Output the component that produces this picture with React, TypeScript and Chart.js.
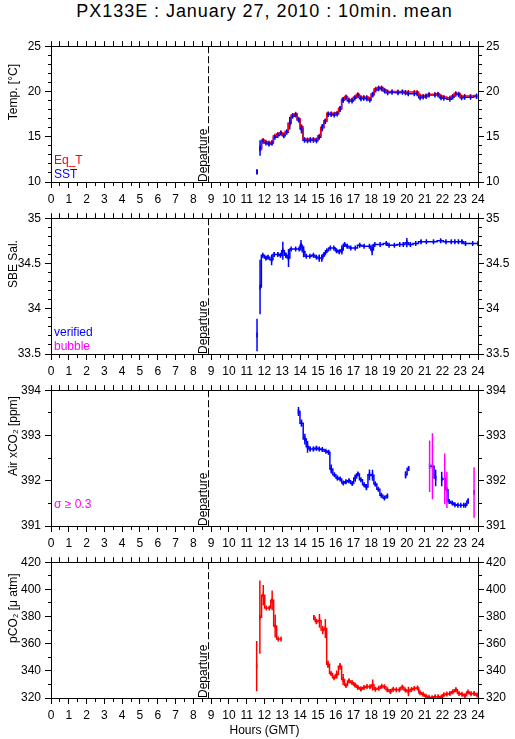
import React, { useEffect, useRef } from 'react';
import { Chart, registerables } from 'chart.js';

Chart.register(...registerables);

const FONT = "'Liberation Sans', Arial, Helvetica, sans-serif";
Chart.defaults.font.family = FONT;
Chart.defaults.font.size = 12;
Chart.defaults.color = '#000';

const BLUE = '#0000ff';
const RED = '#ff0000';
const MAGENTA = '#ff00ff';

const TITLE = 'PX133E : January 27, 2010 : 10min. mean';
const X_TITLE = 'Hours (GMT)';
const DEPARTURE_TEXT = 'Departure';
const DEPARTURE_HOUR = 8.83;
const HOUR_MIN = 0;
const HOUR_MAX = 24;
const SIGMA_LIMIT = 0.3;

// ---- Panel 1: temperature ----
const tempHours = [11.58, 11.67, 11.75, 11.92, 12.08, 12.25, 12.42, 12.58, 12.75, 12.92, 13.08, 13.25, 13.42, 13.58, 13.75, 13.92, 14.08, 14.25, 14.42, 14.58, 14.75, 14.92, 15.08, 15.25, 15.42, 15.58, 15.75, 15.92, 16.08, 16.25, 16.42, 16.58, 16.75, 16.92, 17.08, 17.25, 17.42, 17.58, 17.75, 17.92, 18.08, 18.25, 18.42, 18.58, 18.75, 18.92, 19.17, 19.5, 19.75, 19.92, 20.08, 20.42, 20.58, 20.75, 20.92, 21.08, 21.25, 21.58, 21.75, 21.92, 22.08, 22.42, 22.58, 22.75, 22.92, 23.08, 23.25, 23.58, 23.92];
const sstValues = [11.1, null, 13.76, 14.5, 14.3, 14.2, 14.3, 14.95, 15.15, 15.4, 15.1, 15.5, 16.5, 17.25, 17.4, 16.85, 15.85, 14.6, 14.55, 14.6, 14.6, 14.55, 14.95, 16.0, 16.7, 17.45, 17.45, 17.4, 17.5, 18.07, 19.05, 19.3, 18.95, 18.95, 19.27, 19.55, 19.2, 19.25, 19.2, 19.05, 19.65, 20.15, 20.3, 20.3, 20.05, 19.85, 19.9, 19.85, 19.9, 19.85, 19.75, 19.75, 19.75, 19.3, 19.4, 19.45, 19.6, 19.6, 19.65, 19.3, 19.25, 19.15, 19.4, 19.7, 19.65, 19.3, 19.35, 19.35, 19.45];
const sstErrors = [0.25, 0, 0.85, 0.1, 0.1, 0.2, 0.25, 0.2, 0.1, 0.15, 0.2, 0.1, 0.7, 0.1, 0.05, 0.2, 0.5, 0.1, 0.1, 0.1, 0.1, 0.1, 0.1, 0.4, 0.3, 0.1, 0.1, 0.1, 0.1, 0.3, 0.3, 0.1, 0.1, 0.1, 0.1, 0.1, 0.1, 0.1, 0.1, 0.1, 0.3, 0.1, 0.1, 0.1, 0.1, 0.1, 0.1, 0.1, 0.1, 0.1, 0.1, 0.1, 0.1, 0.1, 0.1, 0.1, 0.1, 0.1, 0.1, 0.1, 0.1, 0.1, 0.1, 0.1, 0.1, 0.1, 0.1, 0.1, 0.1];
const eqtValues = [11.2, null, 13.6, 14.65, 14.45, 14.35, 14.4, 15.1, 15.3, 15.45, 15.25, 15.6, 16.45, 17.4, 17.55, 17.0, 16.1, 14.75, 14.7, 14.75, 14.75, 14.7, 15.1, 16.05, 16.75, 17.6, 17.6, 17.55, 17.65, 18.15, 19.15, 19.45, 19.1, 19.1, 19.4, 19.7, 19.4, 19.4, 19.4, 19.15, 19.75, 20.3, 20.45, 20.45, 20.2, 20.0, 20.0, 20.0, 20.0, 19.95, 19.95, 19.95, 19.95, 19.55, 19.5, 19.55, 19.7, 19.7, 19.75, 19.5, 19.4, 19.3, 19.5, 19.8, 19.75, 19.45, 19.5, 19.5, 19.55];

// ---- Panel 2: salinity ----
const salHours = [11.58, 11.67, 11.75, 11.9, 12.08, 12.2, 12.4, 12.55, 12.75, 12.9, 13.03, 13.2, 13.35, 13.5, 13.75, 13.95, 14.05, 14.2, 14.35, 14.55, 14.75, 14.92, 15.08, 15.22, 15.35, 15.5, 15.7, 15.9, 16.05, 16.2, 16.35, 16.5, 16.65, 16.85, 17.1, 17.35, 17.6, 17.9, 18.05, 18.2, 18.5, 18.85, 19.0, 19.3, 19.6, 19.8, 20.0, 20.2, 20.5, 20.8, 21.1, 21.5, 21.9, 22.2, 22.5, 22.7, 22.9, 23.1, 23.3, 23.7, 24.0];
const salValues = [33.71, null, 34.24, 34.59, 34.56, 34.57, 34.54, 34.6, 34.6, 34.59, 34.64, 34.59, 34.56, 34.66, 34.66, 34.66, 34.7, 34.63, 34.58, 34.58, 34.59, 34.57, 34.56, 34.56, 34.6, 34.64, 34.67, 34.67, 34.64, 34.63, 34.65, 34.71, 34.69, 34.67, 34.67, 34.7, 34.69, 34.69, 34.65, 34.71, 34.71, 34.72, 34.7, 34.7, 34.71, 34.71, 34.73, 34.71, 34.72, 34.74, 34.74, 34.74, 34.75, 34.74, 34.74, 34.74, 34.74, 34.74, 34.72, 34.72, 34.72];
const salErrors = [0.18, 0, 0.3, 0.02, 0.02, 0.02, 0.06, 0.02, 0.02, 0.02, 0.1, 0.03, 0.1, 0.01, 0.01, 0.01, 0.06, 0.06, 0.01, 0.01, 0.01, 0.01, 0.04, 0.04, 0.02, 0.02, 0.01, 0.01, 0.02, 0.02, 0.05, 0.02, 0.02, 0.01, 0.01, 0.02, 0.01, 0.01, 0.06, 0.01, 0.01, 0.02, 0.01, 0.01, 0.01, 0.01, 0.05, 0.01, 0.01, 0.02, 0.01, 0.01, 0.02, 0.01, 0.01, 0.01, 0.01, 0.02, 0.01, 0.01, 0.01];

// ---- Panel 3: air xCO2 ----
const co2Hours = [13.91, 14.08, 14.27, 14.42, 14.57, 14.75, 14.92, 15.08, 15.25, 15.45, 15.6, 15.75, 15.93, 16.1, 16.25, 16.43, 16.58, 16.75, 16.93, 17.1, 17.25, 17.42, 17.6, 17.73, 17.9, 18.07, 18.23, 18.4, 18.57, 18.74, 18.91, 19.4, 19.93, 20.1, 20.7, 21.28, 21.44, 21.62, 21.8, 21.96, 22.13, 22.25, 22.38, 22.55, 22.7, 22.87, 23.03, 23.2, 23.3, 23.45, 23.6, 23.78];
const co2Values = [393.53, 393.27, 392.92, 392.75, 392.7, 392.7, 392.72, 392.7, 392.69, 392.65, 392.63, 392.26, 392.13, 392.06, 392.04, 391.95, 391.98, 392.0, 391.94, 392.06, 392.15, 392.02, 391.91, 391.86, 392.13, 392.12, 391.93, 391.81, 391.68, 391.62, 391.66, null, 392.13, 392.27, null, 392.32, 392.32, 392.06, null, 392.04, 392.04, 391.8, 391.54, 391.51, 391.47, 391.46, 391.46, 391.46, 391.46, 391.55, null, 391.74];
const co2Errors = [0.1, 0.08, 0.12, 0.13, 0.05, 0.05, 0.05, 0.04, 0.03, 0.02, 0.05, 0.1, 0.03, 0.05, 0.03, 0.04, 0.04, 0.04, 0.03, 0.08, 0.04, 0.03, 0.03, 0.07, 0.12, 0.12, 0.05, 0.03, 0.05, 0.03, 0.03, 0, 0.08, 0.05, 0, 0.57, 0.73, 0.18, 0, 0.16, 0.56, 0.4, 0.02, 0.02, 0.03, 0.03, 0.03, 0.02, 0.02, 0.06, 0, 0.56];

// ---- Panel 4: pCO2 ----
const pco2Hours = [11.56, 11.65, 11.74, 11.93, 12.1, 12.27, 12.43, 12.6, 12.77, 12.93, 13.8, 14.77, 14.92, 15.09, 15.27, 15.42, 15.57, 15.74, 15.91, 16.06, 16.25, 16.42, 16.58, 16.75, 16.92, 17.09, 17.25, 17.42, 17.59, 17.76, 17.93, 18.08, 18.23, 18.42, 18.59, 18.74, 18.91, 19.08, 19.24, 19.41, 19.58, 19.75, 19.92, 20.09, 20.26, 20.42, 20.6, 20.74, 20.91, 21.08, 21.25, 21.42, 21.59, 21.76, 21.93, 22.08, 22.25, 22.42, 22.59, 22.76, 22.93, 23.1, 23.27, 23.44, 23.61, 23.78, 23.95];
const pco2Values = [343.5, null, 379.5, 395.7, 386.3, 386.3, 391.9, 373.0, 363.5, 363.5, null, 379.2, 376.3, 376.8, 370.0, 371.2, 344.8, 338.0, 335.0, 337.3, 343.3, 333.6, 329.2, 332.6, 331.4, 329.6, 327.7, 326.7, 327.7, 328.4, 328.2, 329.6, 326.5, 327.2, 328.6, 328.2, 326.0, 324.8, 326.5, 326.0, 326.0, 328.0, 325.8, 324.8, 326.3, 327.0, 327.4, 323.9, 322.7, 321.2, 320.5, 320.2, 321.0, 321.0, 320.5, 322.4, 322.9, 323.4, 324.6, 326.1, 323.4, 322.7, 321.7, 324.4, 323.2, 323.4, 322.2];
const pco2Errors = [18.5, 0, 27, 7.5, 1, 1, 7.3, 8.5, 0.5, 0.5, 0, 2, 2, 5, 3, 7, 2.8, 1, 1, 3, 2.5, 4, 1, 1.5, 1, 1.5, 1, 1.5, 1, 1, 1, 4, 1, 1, 1, 1, 1.5, 1.5, 1, 1, 1, 1.5, 1, 3.5, 1, 1, 1, 1, 1, 1, 1, 1, 1, 1, 1, 1, 1, 1, 1, 1.5, 1, 1, 1.5, 1, 1, 1, 1];

type Pt = { x: number; y: number | null };

function linePoints(hours: number[], values: (number | null)[]): Pt[] {
  return hours.map((h, i) => ({ x: h, y: values[i] }));
}

function errorPoints(hours: number[], values: (number | null)[], errors: number[], keep: (e: number) => boolean): Pt[] {
  const pts: Pt[] = [];
  hours.forEach((h, i) => {
    const v = values[i];
    const e = errors[i];
    if (v === null || !keep(e) || e <= 0) return;
    pts.push({ x: h, y: v - e }, { x: h, y: v + e }, { x: h, y: null });
  });
  return pts;
}

const LINE_W = 1.5;

// stepped line through 10-min means
function stepLine(data: Pt[], color: string) {
  return {
    type: 'line',
    data,
    borderColor: color,
    backgroundColor: color,
    borderWidth: LINE_W,
    stepped: 'middle',
    spanGaps: false,
    fill: false,
    pointRadius: 0,
    pointHoverRadius: 0,
  };
}

// short vertical tick at each mean
function tickMarks(data: Pt[], color: string, r: number) {
  return {
    type: 'line',
    data,
    showLine: false,
    borderColor: color,
    backgroundColor: color,
    pointStyle: 'line',
    pointRotation: 90,
    pointRadius: r,
    pointHoverRadius: r,
    pointBorderWidth: LINE_W,
    pointBorderColor: color,
  };
}

// vertical std bars
function errLine(data: Pt[], color: string) {
  return {
    type: 'line',
    data,
    borderColor: color,
    borderWidth: LINE_W,
    stepped: false,
    spanGaps: false,
    fill: false,
    pointRadius: 0,
    pointHoverRadius: 0,
  };
}

type Legend = { text: string; color: string };
type PanelSpec = {
  top: number;
  bottomAxis: number;
  yMin: number;
  yMax: number;
  yStep: number;
  yMajor: number;
  yTitle: string;
  legend: Legend[];
  xTitle: string | null;
  datasets: any[];
};

const PANELS: PanelSpec[] = [
  {
    top: 35, bottomAxis: 22, yMin: 10, yMax: 25, yStep: 1, yMajor: 5, yTitle: 'Temp. [°C]',
    legend: [{ text: 'Eq_T', color: RED }, { text: 'SST', color: BLUE }], xTitle: null,
    datasets: [
      tickMarks(linePoints(tempHours, sstValues), BLUE, 2.5),
      errLine(errorPoints(tempHours, sstValues, sstErrors, () => true), BLUE),
      tickMarks(linePoints(tempHours, eqtValues), RED, 2),
      stepLine(linePoints(tempHours, eqtValues), RED),
      stepLine(linePoints(tempHours, sstValues), BLUE),
    ],
  },
  {
    top: 207, bottomAxis: 22, yMin: 33.5, yMax: 35, yStep: 0.1, yMajor: 0.5, yTitle: 'SBE Sal.',
    legend: [{ text: 'verified', color: BLUE }, { text: 'bubble', color: MAGENTA }], xTitle: null,
    datasets: [
      tickMarks(linePoints(salHours, salValues), BLUE, 2.5),
      errLine(errorPoints(salHours, salValues, salErrors, () => true), BLUE),
      stepLine(linePoints(salHours, salValues), BLUE),
    ],
  },
  {
    top: 379, bottomAxis: 22, yMin: 391, yMax: 394, yStep: 0.5, yMajor: 1, yTitle: 'Air xCO₂ [ppm]',
    legend: [{ text: 'σ ≥ 0.3', color: MAGENTA }], xTitle: null,
    datasets: [
      errLine(errorPoints(co2Hours, co2Values, co2Errors, (e) => e >= SIGMA_LIMIT), MAGENTA),
      tickMarks(linePoints(co2Hours, co2Values), BLUE, 2.5),
      errLine(errorPoints(co2Hours, co2Values, co2Errors, (e) => e < SIGMA_LIMIT), BLUE),
      stepLine(linePoints(co2Hours, co2Values), BLUE),
    ],
  },
  {
    top: 551, bottomAxis: 41, yMin: 320, yMax: 420, yStep: 10, yMajor: 20, yTitle: 'pCO₂ [μ atm]',
    legend: [], xTitle: X_TITLE,
    datasets: [
      tickMarks(linePoints(pco2Hours, pco2Values), RED, 2.5),
      errLine(errorPoints(pco2Hours, pco2Values, pco2Errors, () => true), RED),
      stepLine(linePoints(pco2Hours, pco2Values), RED),
    ],
  },
];

const TOP_AXIS = 10;
const PLOT_H = 137;
const LEFT_W = 51;
const RIGHT_W = 37;
const W = 515;

function makeDecor(spec: PanelSpec) {
  return {
    id: 'decor',
    beforeDatasetsDraw(chart: any) {
      const { ctx, chartArea } = chart;
      const x = Math.round(chart.scales.x.getPixelForValue(DEPARTURE_HOUR)) + 0.5;
      ctx.save();
      ctx.strokeStyle = '#000';
      ctx.lineWidth = 1;
      ctx.setLineDash([7, 3]);
      ctx.beginPath();
      ctx.moveTo(x, chartArea.top);
      ctx.lineTo(x, chartArea.bottom);
      ctx.stroke();
      ctx.restore();
    },
    afterDraw(chart: any) {
      const { ctx, chartArea } = chart;
      const x = chart.scales.x.getPixelForValue(DEPARTURE_HOUR);
      ctx.save();
      ctx.font = `12px ${FONT}`;
      ctx.fillStyle = '#000';
      // Departure label
      ctx.save();
      ctx.translate(x - 1.5, chartArea.bottom);
      ctx.rotate(-Math.PI / 2);
      ctx.textAlign = 'left';
      ctx.textBaseline = 'alphabetic';
      ctx.fillText(DEPARTURE_TEXT, 0, 0);
      ctx.restore();
      // Y title
      ctx.save();
      ctx.translate(13.5, (chartArea.top + chartArea.bottom) / 2 - 22);
      ctx.rotate(-Math.PI / 2);
      ctx.textAlign = 'center';
      ctx.textBaseline = 'middle';
      ctx.fillText(spec.yTitle, 0, 0);
      ctx.restore();
      // Legend
      ctx.textAlign = 'left';
      ctx.textBaseline = 'alphabetic';
      spec.legend.forEach((item, i) => {
        ctx.fillStyle = item.color;
        ctx.fillText(item.text, chartArea.left + 3, chartArea.bottom - 18 + i * 13.5);
      });
      // X title
      if (spec.xTitle) {
        ctx.fillStyle = '#000';
        ctx.textAlign = 'center';
        ctx.textBaseline = 'middle';
        ctx.fillText(spec.xTitle, (chartArea.left + chartArea.right) / 2, chartArea.bottom + 33);
      }
      ctx.restore();
    },
  };
}

function yScale(spec: PanelSpec, position: 'left' | 'right') {
  const left = position === 'left';
  const isMajor = (v: number) => Math.abs(v / spec.yMajor - Math.round(v / spec.yMajor)) < 1e-6;
  return {
    type: 'linear',
    position,
    min: spec.yMin,
    max: spec.yMax,
    ticks: {
      stepSize: spec.yStep,
      autoSkip: false,
      padding: left ? 4 : 2,
      color: '#000',
      font: { size: 12, family: FONT },
      callback: (v: number) => (isMajor(v) ? String(Math.round(v * 10) / 10) : ''),
    },
    grid: {
      drawOnChartArea: false,
      drawTicks: true,
      tickLength: 6,
      color: '#000',
      tickColor: '#000',
      tickWidth: 1,
      tickBorderDash: (c: any) => (c.tick && !isMajor(c.tick.value) ? (left ? [3, 3] : [3, 10]) : []),
      tickBorderDashOffset: (c: any) => (c.tick && !isMajor(c.tick.value) && left ? 3 : 0),
    },
    border: { display: true, color: '#000', width: 1 },
    afterFit: (s: any) => {
      s.width = left ? LEFT_W : RIGHT_W;
    },
  };
}

function buildConfig(spec: PanelSpec): any {
  const isInt = (v: number) => Math.abs(v - Math.round(v)) < 1e-6;
  return {
    type: 'line',
    data: { datasets: spec.datasets },
    plugins: [makeDecor(spec)],
    options: {
      animation: false,
      responsive: false,
      devicePixelRatio: 1,
      events: [],
      layout: { padding: 0 },
      plugins: { legend: { display: false }, tooltip: { enabled: false }, title: { display: false } },
      scales: {
        x: {
          type: 'linear',
          position: 'bottom',
          min: HOUR_MIN,
          max: HOUR_MAX,
          offset: false,
          ticks: {
            stepSize: 0.5,
            autoSkip: false,
            maxRotation: 0,
            minRotation: 0,
            padding: 4,
            color: '#000',
            font: { size: 12, family: FONT },
            callback: (v: number) => (isInt(v) ? String(Math.round(v)) : ''),
          },
          grid: {
            offset: false,
            drawOnChartArea: false,
            drawTicks: true,
            tickLength: 6,
            color: '#000',
            tickColor: '#000',
            tickBorderDash: (c: any) => (c.tick && !isInt(c.tick.value) ? [3, 10] : []),
          },
          border: { display: true, color: '#000', width: 1 },
          afterFit: (s: any) => {
            s.height = spec.bottomAxis;
          },
        },
        x2: {
          type: 'linear',
          position: 'top',
          min: HOUR_MIN,
          max: HOUR_MAX,
          offset: false,
          ticks: { display: false, stepSize: 0.5, autoSkip: false },
          grid: { offset: false, drawOnChartArea: false, drawTicks: true, tickLength: 5, color: '#000', tickColor: '#000' },
          border: { display: true, color: '#000', width: 1 },
          afterFit: (s: any) => {
            s.height = TOP_AXIS;
          },
        },
        y: yScale(spec, 'left'),
        y2: yScale(spec, 'right'),
      },
    },
  };
}

function Panel({ spec }: { spec: PanelSpec }) {
  const ref = useRef<HTMLCanvasElement>(null);
  const height = TOP_AXIS + PLOT_H + spec.bottomAxis;
  useEffect(() => {
    if (!ref.current) return;
    const chart = new Chart(ref.current, buildConfig(spec));
    return () => chart.destroy();
  }, [spec]);
  return (
    <canvas
      ref={ref}
      width={W}
      height={height}
      style={{ position: 'absolute', left: 0, top: spec.top, width: W, height, display: 'block' }}
    />
  );
}

export default function App() {
  return (
    <div
      style={{
        position: 'absolute',
        left: 0,
        top: 0,
        width: W,
        height: 739,
        overflow: 'hidden',
        background: '#fff',
      }}
    >
      <div
        style={{
          position: 'absolute',
          left: LEFT_W,
          top: 2,
          width: W - LEFT_W - RIGHT_W,
          textAlign: 'center',
          fontFamily: FONT,
          fontSize: 18,
          lineHeight: '18px',
          letterSpacing: '0.95px',
          color: '#000',
          whiteSpace: 'nowrap',
        }}
      >
        {TITLE}
      </div>
      {PANELS.map((p, i) => (
        <Panel key={i} spec={p} />
      ))}
    </div>
  );
}
